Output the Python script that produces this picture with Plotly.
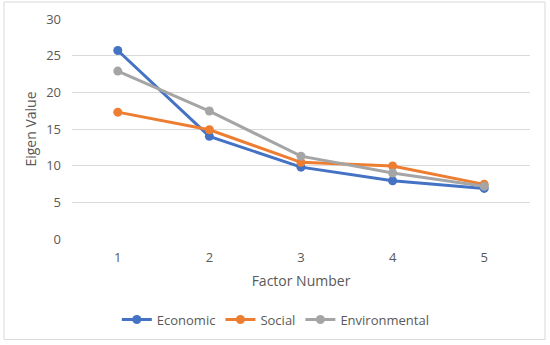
import plotly.graph_objects as go

factors = ["1", "2", "3", "4", "5"]
economic = [25.7, 14.0, 9.8, 7.95, 6.9]
social = [17.3, 14.9, 10.45, 9.95, 7.45]
environmental = [22.9, 17.45, 11.3, 9.0, 7.2]

series = [
    ("Economic", economic, "#4472C4"),
    ("Social", social, "#ED7D31"),
    ("Environmental", environmental, "#A5A5A5"),
]

fig = go.Figure()
for name, vals, color in series:
    fig.add_trace(go.Scatter(
        x=factors, y=vals, name=name, mode="lines+markers",
        line=dict(color=color, width=3),
        marker=dict(color=color, size=9),
    ))

font_family = "Open Sans, Liberation Sans, sans-serif"
fig.update_layout(
    width=550, height=345,
    margin=dict(l=72, r=20, t=19, b=105),
    paper_bgcolor="white", plot_bgcolor="white",
    font=dict(family=font_family, size=13, color="#595959"),
    showlegend=True,
    legend=dict(orientation="h", x=0.445, xanchor="center", y=-0.36, yanchor="middle",
                font=dict(size=13, color="#595959"), itemwidth=30, tracegroupgap=0),
    xaxis=dict(type="category", range=[-0.5, 4.5], showgrid=False, showline=False,
               ticks="", tickfont=dict(size=13, color="#595959"), automargin=False,
               ticklabelstandoff=9,
               title=dict(text="Factor Number", font=dict(size=14, color="#595959"), standoff=11)),
    yaxis=dict(range=[0, 30], dtick=5, showgrid=True, gridcolor="#D9D9D9", gridwidth=1,
               zeroline=False, showline=False, ticks="", ticklabelstandoff=10,
               tickfont=dict(size=13, color="#595959"), automargin=False,
               title=dict(text="Eigen Value", font=dict(size=14, color="#595959"), standoff=6)),
    shapes=[dict(type="rect", xref="paper", yref="paper",
                 x0=(4 - 72) / 458, x1=(545 - 72) / 458,
                 y0=-(341 - 240) / 221, y1=(240 - 2) / 221,
                 line=dict(color="#D9D9D9", width=1), fillcolor="rgba(0,0,0,0)", layer="below")],
)

fig.write_html("out.html", config={"displayModeBar": False},
               post_script="document.body.style.margin='0';document.body.style.overflow='hidden';")
